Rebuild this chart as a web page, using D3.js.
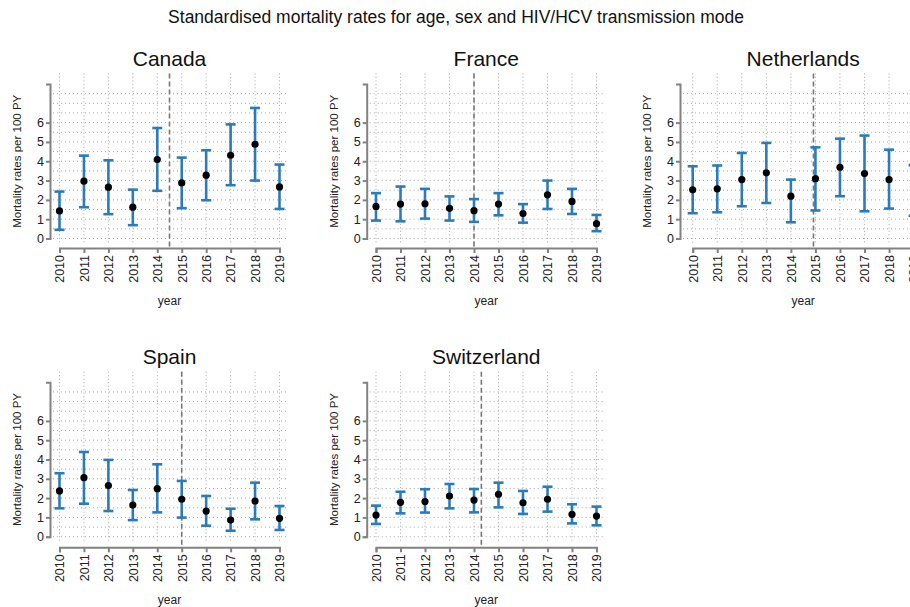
<!DOCTYPE html>
<html>
<head>
<meta charset="utf-8">
<script src="https://cdn.jsdelivr.net/npm/d3@7"></script>
<style>
  body { margin: 0; background: #fff; }
  text { font-family: "Liberation Sans", Arial, sans-serif; }
</style>
</head>
<body>
<div class="chart"></div>
<script>
// data
const years = [2010, 2011, 2012, 2013, 2014, 2015, 2016, 2017, 2018, 2019];
const countries = ["Canada", "France", "Netherlands", "Spain", "Switzerland"];

const canadaRate = [1.43, 2.97, 2.66, 1.62, 4.09, 2.88, 3.28, 4.31, 4.88, 2.67];
const canadaLow = [0.45, 1.62, 1.26, 0.69, 2.47, 1.57, 1.98, 2.76, 3.0, 1.53];
const canadaHigh = [2.43, 4.29, 4.05, 2.53, 5.72, 4.19, 4.57, 5.91, 6.76, 3.83];

const franceRate = [1.66, 1.78, 1.8, 1.56, 1.44, 1.78, 1.29, 2.26, 1.92, 0.77];
const franceLow = [0.93, 0.89, 1.03, 0.93, 0.86, 1.2, 0.82, 1.53, 1.27, 0.38];
const franceHigh = [2.35, 2.69, 2.57, 2.18, 2.04, 2.35, 1.78, 3.0, 2.57, 1.22];

const netherlandsRate = [2.52, 2.57, 3.05, 3.4, 2.19, 3.1, 3.69, 3.36, 3.05, 2.2];
const netherlandsLow = [1.31, 1.36, 1.67, 1.84, 0.84, 1.45, 2.19, 1.41, 1.55, 1.18];
const netherlandsHigh = [3.74, 3.78, 4.43, 4.95, 3.05, 4.72, 5.17, 5.33, 4.6, 3.8];

const spainRate = [2.37, 3.06, 2.65, 1.64, 2.49, 1.94, 1.33, 0.86, 1.85, 0.95];
const spainLow = [1.47, 1.71, 1.33, 0.86, 1.26, 0.99, 0.57, 0.31, 0.9, 0.35];
const spainHigh = [3.29, 4.39, 3.98, 2.42, 3.75, 2.89, 2.11, 1.45, 2.8, 1.59];

const switzerlandRate = [1.12, 1.78, 1.82, 2.11, 1.9, 2.2, 1.76, 1.94, 1.16, 1.07];
const switzerlandLow = [0.66, 1.21, 1.25, 1.47, 1.26, 1.52, 1.18, 1.3, 0.69, 0.59];
const switzerlandHigh = [1.61, 2.33, 2.46, 2.73, 2.47, 2.8, 2.37, 2.59, 1.68, 1.56];

// year of the dashed reference line in each panel
const cutoff = [2014.5, 2014.0, 2014.92, 2015.0, 2014.3];

const yTicks = [0, 1, 2, 3, 4, 5, 6];
const yGrid = d3.range(0, 8, 0.5);

const rates = [canadaRate, franceRate, netherlandsRate, spainRate, switzerlandRate];
const lows = [canadaLow, franceLow, netherlandsLow, spainLow, switzerlandLow];
const highs = [canadaHigh, franceHigh, netherlandsHigh, spainHigh, switzerlandHigh];

// layout of each panel: y axis position, x range, row
const cols = [
  { axisX: 50, x0: 59.5, x1: 279.5 },
  { axisX: 366.7, x0: 376, x1: 596.5 },
  { axisX: 680, x0: 692.7, x1: 913.6 }
];
const rows = [
  { y0: 238.5, y8: 84, xAxisY: 248, title: 66 },
  { y0: 536.7, y8: 382.3, xAxisY: 547.3, title: 364 }
];

const width = 910;
const height = 607;
const blue = "#2b7bba";
const axisGrey = "#828282";

const svg = d3.select(".chart").append("svg").attr("width", width).attr("height", height);

svg.append("text")
  .attr("x", 456).attr("y", 23)
  .attr("text-anchor", "middle")
  .style("font-size", "17.5px")
  .attr("fill", "#111")
  .text("Standardised mortality rates for age, sex and HIV/HCV transmission mode");

countries.forEach((name, i) => {
  const col = cols[i % 3];
  const row = rows[Math.floor(i / 3)];
  const x = d3.scaleLinear().domain([2010, 2019]).range([col.x0, col.x1]);
  const y = d3.scaleLinear().domain([0, 8]).range([row.y0, row.y8]);
  const g = svg.append("g");
  const mid = (col.x0 + col.x1) / 2;

  // dotted grid
  g.append("g").selectAll("line").data(yGrid).enter().append("line")
    .attr("x1", col.axisX + 3).attr("x2", x(2019.32))
    .attr("y1", (d) => y(d)).attr("y2", (d) => y(d))
    .attr("stroke", "#a8a8a8").attr("stroke-width", 1)
    .attr("stroke-dasharray", "1,3");
  g.append("g").selectAll("line").data(years).enter().append("line")
    .attr("x1", (d) => x(d)).attr("x2", (d) => x(d))
    .attr("y1", y(8.55)).attr("y2", y(-0.25))
    .attr("stroke", "#a8a8a8").attr("stroke-width", 1)
    .attr("stroke-dasharray", "1,2.5");

  // dashed reference line
  g.append("line")
    .attr("x1", x(cutoff[i])).attr("x2", x(cutoff[i]))
    .attr("y1", y(8.55)).attr("y2", row.xAxisY)
    .attr("stroke", "#777").attr("stroke-width", 1.6)
    .attr("stroke-dasharray", "5,3");

  // axes
  const yAxis = g.append("g")
    .attr("transform", `translate(${col.axisX},0)`)
    .call(d3.axisLeft(y).tickValues(yTicks).tickSize(4).tickSizeOuter(4).tickPadding(2));
  const xAxis = g.append("g")
    .attr("transform", `translate(0,${row.xAxisY})`)
    .call(d3.axisBottom(x).tickValues(years).tickSize(5).tickSizeOuter(5).tickFormat((d) => d));
  [yAxis, xAxis].forEach((a) => {
    a.attr("font-family", null).attr("font-size", null);
    a.selectAll("path, line").attr("stroke", axisGrey).attr("stroke-width", 2);
    a.selectAll("text").attr("fill", "#222").style("font-size", "12.5px");
  });
  xAxis.selectAll("text")
    .attr("transform", "rotate(-90)")
    .attr("text-anchor", "end")
    .attr("x", -7).attr("y", 0).attr("dy", "0.35em");

  // error bars
  const bars = g.append("g").selectAll("g").data(years).enter().append("g")
    .attr("stroke", blue).attr("stroke-width", 2.6);
  bars.append("line")
    .attr("x1", (d) => x(d)).attr("x2", (d) => x(d))
    .attr("y1", (d, j) => y(lows[i][j])).attr("y2", (d, j) => y(highs[i][j]));
  bars.append("line")
    .attr("x1", (d) => x(d) - 5).attr("x2", (d) => x(d) + 5)
    .attr("y1", (d, j) => y(lows[i][j])).attr("y2", (d, j) => y(lows[i][j]));
  bars.append("line")
    .attr("x1", (d) => x(d) - 5).attr("x2", (d) => x(d) + 5)
    .attr("y1", (d, j) => y(highs[i][j])).attr("y2", (d, j) => y(highs[i][j]));

  g.append("g").selectAll("circle").data(years).enter().append("circle")
    .attr("cx", (d) => x(d)).attr("cy", (d, j) => y(rates[i][j]))
    .attr("r", 3.6).attr("fill", "#000");

  // titles
  g.append("text")
    .attr("x", mid).attr("y", row.title)
    .attr("text-anchor", "middle").style("font-size", "21px").attr("fill", "#111")
    .text(name);
  g.append("text")
    .attr("transform", `translate(${col.axisX - 33},${(row.y0 + row.y8) / 2}) rotate(-90)`)
    .attr("text-anchor", "middle").attr("dy", "0.35em")
    .style("font-size", "11.5px").attr("fill", "#222")
    .text("Mortality rates per 100 PY");
  g.append("text")
    .attr("x", mid).attr("y", row.xAxisY + 57)
    .attr("text-anchor", "middle").style("font-size", "12px").attr("fill", "#222")
    .text("year");
});
</script>
</body>
</html>
